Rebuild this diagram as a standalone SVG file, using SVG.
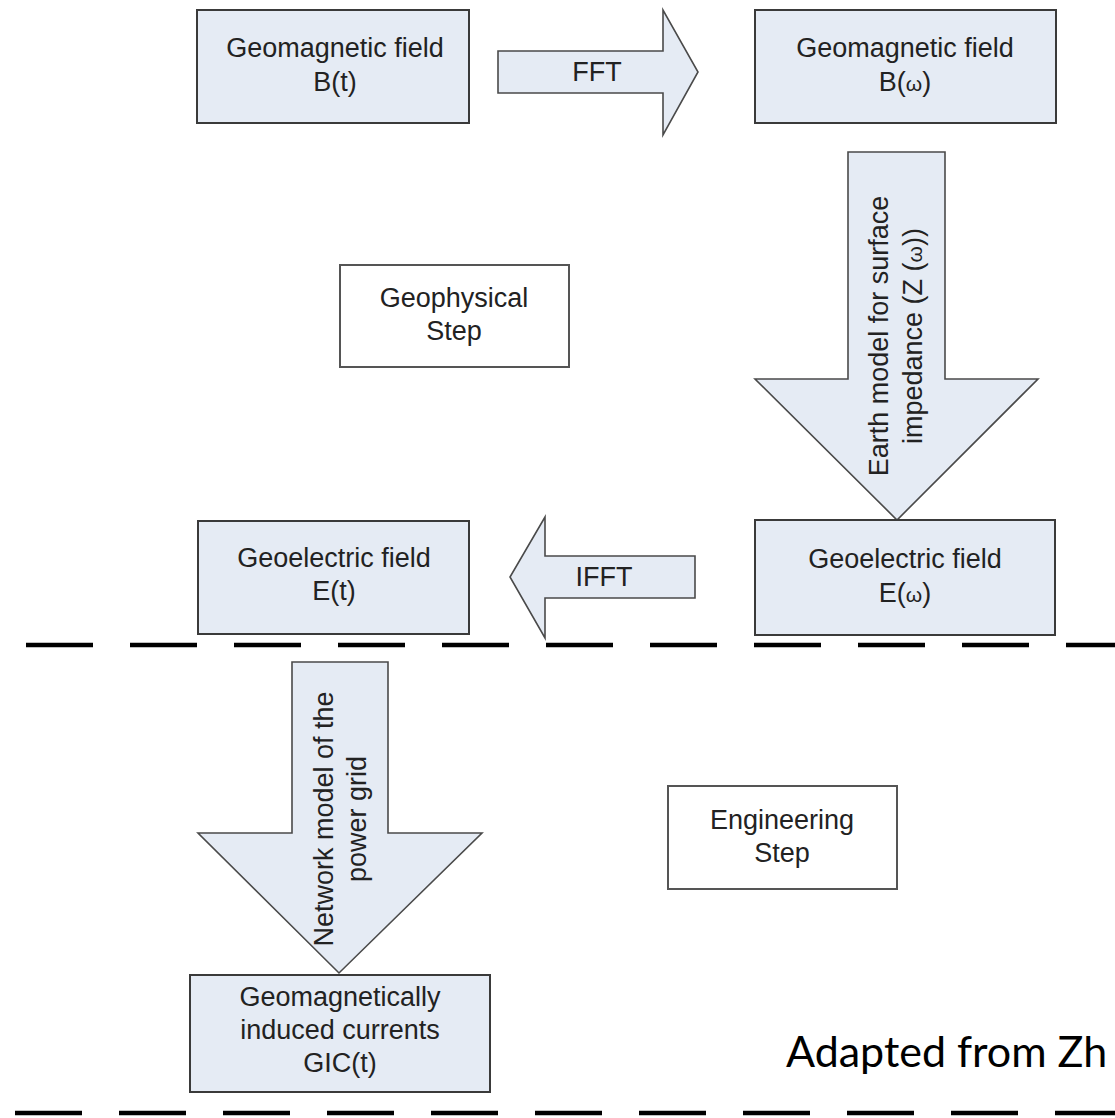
<svg xmlns="http://www.w3.org/2000/svg" width="1115" height="1118" viewBox="0 0 1115 1118">
  <style>
    .box { fill: #e5ebf4; stroke: #3a3a3a; stroke-width: 2; }
    .step { fill: #ffffff; stroke: #555555; stroke-width: 2; }
    .arrow { fill: #e5ebf4; stroke: #4a4a4a; stroke-width: 1.6; stroke-linejoin: miter; }
    .lbl { font-family: "Liberation Sans", Arial, sans-serif; font-size: 27px; fill: #222222; text-anchor: middle; }
    .sym { font-size: 21px; }
    .sep { stroke: #000000; stroke-width: 4.5; stroke-dasharray: 67 37; fill: none; }
    .credit { font-family: Lato, "Liberation Sans", sans-serif; font-size: 43px; fill: #000000; }
  </style>
  <rect width="1115" height="1118" fill="#ffffff"/>

  <g id="separators">
    <line class="sep" x1="26" y1="645" x2="1115" y2="645"/>
    <line class="sep" x1="15" y1="1113" x2="1115" y2="1113"/>
  </g>

  <g id="connectors">
    <g id="fft">
      <path class="arrow" d="M498,51 H663 V10 L698,72 L663,135 V93 H498 Z"/>
      <text class="lbl" x="597" y="81">FFT</text>
    </g>
    <g id="earth-model">
      <path class="arrow" d="M848,152 H945 V379 H1038 L897,520 L755,379 H848 Z"/>
      <text class="lbl" transform="translate(888,336) rotate(-90)">Earth model for surface</text>
      <text class="lbl" transform="translate(922,336) rotate(-90)">impedance (Z (<tspan class="sym">ω</tspan>))</text>
    </g>
    <g id="ifft">
      <path class="arrow" d="M695,556 H545 V517 L510,577 L545,638 V598 H695 Z"/>
      <text class="lbl" x="604" y="586">IFFT</text>
    </g>
    <g id="network-model">
      <path class="arrow" d="M292,662 H388 V833 H482 L339,973 L198,833 H292 Z"/>
      <text class="lbl" transform="translate(333,819) rotate(-90)">Network model of the</text>
      <text class="lbl" transform="translate(366,819) rotate(-90)">power grid</text>
    </g>
  </g>

  <g id="node-b-t">
    <rect class="box" x="197" y="10" width="272" height="113"/>
    <text class="lbl" x="335" y="57">Geomagnetic field</text>
    <text class="lbl" x="335" y="91">B(t)</text>
  </g>

  <g id="node-b-w">
    <rect class="box" x="755" y="10" width="301" height="113"/>
    <text class="lbl" x="905" y="57">Geomagnetic field</text>
    <text class="lbl" x="905" y="91">B(<tspan class="sym">ω</tspan>)</text>
  </g>

  <g id="node-geophysical">
    <rect class="step" x="340" y="265" width="229" height="102"/>
    <text class="lbl" x="454" y="307">Geophysical</text>
    <text class="lbl" x="454" y="340">Step</text>
  </g>

  <g id="node-e-w">
    <rect class="box" x="755" y="520" width="300" height="115"/>
    <text class="lbl" x="905" y="568">Geoelectric field</text>
    <text class="lbl" x="905" y="602">E(<tspan class="sym">ω</tspan>)</text>
  </g>

  <g id="node-e-t">
    <rect class="box" x="198" y="521" width="271" height="113"/>
    <text class="lbl" x="334" y="567">Geoelectric field</text>
    <text class="lbl" x="334" y="600">E(t)</text>
  </g>

  <g id="node-engineering">
    <rect class="step" x="668" y="786" width="229" height="103"/>
    <text class="lbl" x="782" y="829">Engineering</text>
    <text class="lbl" x="782" y="862">Step</text>
  </g>

  <g id="node-gic">
    <rect class="box" x="190" y="975" width="300" height="117"/>
    <text class="lbl" x="340" y="1006">Geomagnetically</text>
    <text class="lbl" x="340" y="1039">induced currents</text>
    <text class="lbl" x="340" y="1072">GIC(t)</text>
  </g>

  <g id="credit">
    <text class="credit" x="786" y="1067">Adapted from Zh</text>
  </g>
</svg>
